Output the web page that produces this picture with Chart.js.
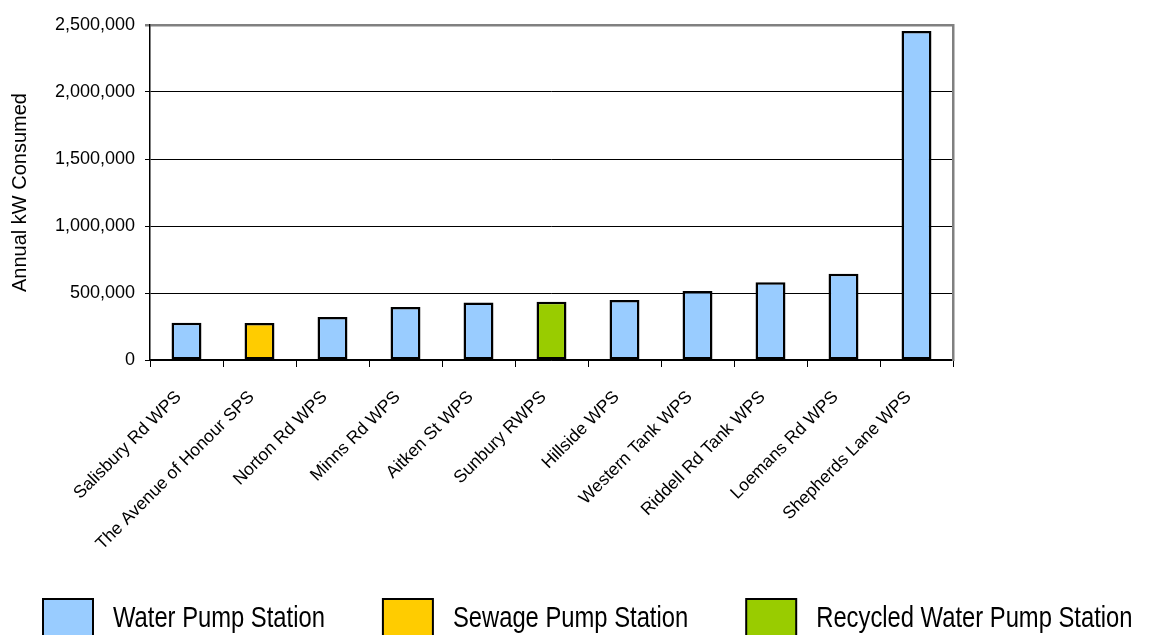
<!DOCTYPE html>
<html>
<head>
<meta charset="utf-8">
<title>Annual kW Consumed by Pump Station</title>
<script src="https://cdn.jsdelivr.net/npm/chart.js@4.4.1/dist/chart.umd.min.js"></script>
<style>
  html, body { margin: 0; padding: 0; background: #fff; overflow: hidden; }
  #wrap { position: relative; width: 1152px; height: 635px; }
</style>
</head>
<body>
<div id="wrap"><canvas id="chart"></canvas></div>
<script>
// Pump stations, in order of annual consumption
const stations = [
  'Salisbury Rd WPS', 'The Avenue of Honour SPS', 'Norton Rd WPS', 'Minns Rd WPS',
  'Aitken St WPS', 'Sunbury RWPS', 'Hillside WPS', 'Western Tank WPS',
  'Riddell Rd Tank WPS', 'Loemans Rd WPS', 'Shepherds Lane WPS'
];
// Annual kW consumed per station
const annualKw = [278000, 277000, 321000, 396000, 430000, 435000, 448000, 515000, 580000, 644000, 2455000];
// Station type per station
const stationTypes = ['water', 'sewage', 'water', 'water', 'water', 'recycled', 'water', 'water', 'water', 'water', 'water'];
// Legend order and names of the station types
const typeOrder = ['water', 'sewage', 'recycled'];
const typeNames = ['Water Pump Station', 'Sewage Pump Station', 'Recycled Water Pump Station'];
const typeColours = ['#99CCFF', '#FFCC00', '#99CC00'];
// Value axis ticks
const yTickValues = [0, 500000, 1000000, 1500000, 2000000, 2500000];

const BASE_FONT = "'Liberation Sans', Arial, sans-serif";
const yTop = yTickValues[yTickValues.length - 1];

const datasets = typeOrder.map((type, k) => ({
  label: typeNames[k],
  data: annualKw.map((v, i) => (stationTypes[i] === type ? v : null)),
  backgroundColor: typeColours[k],
  borderColor: '#000000',
  borderWidth: 2.5,
  borderSkipped: false,
  grouped: false,
  categoryPercentage: 1,
  barPercentage: 0.41
}));

// Legend row along the bottom edge: outlined swatches with condensed labels
const bottomLegend = {
  id: 'bottomLegend',
  afterDraw(chart, args, opts) {
    const ctx = chart.ctx;
    ctx.save();
    ctx.font = `${opts.fontSize}px ${BASE_FONT}`;
    const top = chart.height - opts.rise;
    let x = opts.left;
    chart.data.datasets.forEach((ds) => {
      ctx.fillStyle = ds.backgroundColor;
      ctx.fillRect(x, top, opts.boxWidth, opts.boxHeight);
      ctx.lineWidth = 2;
      ctx.strokeStyle = '#000000';
      ctx.strokeRect(x, top, opts.boxWidth, opts.boxHeight);
      const tx = x + opts.boxWidth + opts.textGap;
      const tw = ctx.measureText(ds.label).width * opts.textScale;
      ctx.save();
      ctx.translate(tx, top + opts.baseline);
      ctx.scale(opts.textScale, 1);
      ctx.fillStyle = '#000000';
      ctx.textBaseline = 'alphabetic';
      ctx.textAlign = 'left';
      ctx.fillText(ds.label, 0, 0);
      ctx.restore();
      x = tx + tw + opts.itemGap;
    });
    ctx.restore();
  }
};

new Chart(document.getElementById('chart'), {
  type: 'bar',
  data: { labels: stations, datasets },
  plugins: [bottomLegend],
  options: {
    responsive: true,
    maintainAspectRatio: false,
    animation: false,
    layout: { padding: { top: 25, left: 0, right: 0, bottom: 0 } },
    plugins: {
      tooltip: { enabled: false },
      legend: { display: false },
      bottomLegend: {
        left: 43, rise: 36, boxWidth: 50, boxHeight: 40,
        textGap: 20, itemGap: 58, fontSize: 29, textScale: 0.82, baseline: 28
      }
    },
    scales: {
      x: {
        grid: { offset: true, drawOnChartArea: false, drawTicks: true, tickLength: 7, color: '#000000', lineWidth: 1 },
        border: { display: true, color: '#000000', width: 1.5 },
        ticks: {
          autoSkip: false, minRotation: 45, maxRotation: 45,
          color: '#000000', padding: 20, labelOffset: -8,
          font: { family: BASE_FONT, size: 17.5 }
        },
        afterFit: (scale) => { scale.height = 275; }
      },
      y: {
        position: 'left',
        min: yTickValues[0],
        max: yTop,
        afterBuildTicks: (scale) => { scale.ticks = yTickValues.map(v => ({ value: v })); },
        grid: {
          drawTicks: true, tickLength: 5,
          color: (ctx) => (ctx.tick && ctx.tick.value === yTop ? '#808080' : '#000000'),
          lineWidth: (ctx) => (ctx.tick && ctx.tick.value === yTop ? 2.5 : 1)
        },
        border: { display: true, color: '#000000', width: 1.5 },
        ticks: {
          color: '#000000', padding: 10,
          font: { family: BASE_FONT, size: 18 },
          callback: (v) => Number(v).toLocaleString('en-US')
        },
        title: {
          display: true, text: 'Annual kW Consumed', color: '#000000',
          font: { family: BASE_FONT, size: 20 }, padding: { top: 8, bottom: 0 }
        },
        afterFit: (scale) => { scale.width = 150; }
      },
      frame: {
        // right-hand edge of the plot frame
        position: 'right',
        type: 'linear',
        min: yTickValues[0],
        max: yTop,
        grid: { drawOnChartArea: false, drawTicks: false },
        ticks: { display: false },
        border: { display: true, color: '#808080', width: 2.5 },
        afterFit: (scale) => { scale.width = 199; }
      }
    }
  }
});
</script>
</body>
</html>
